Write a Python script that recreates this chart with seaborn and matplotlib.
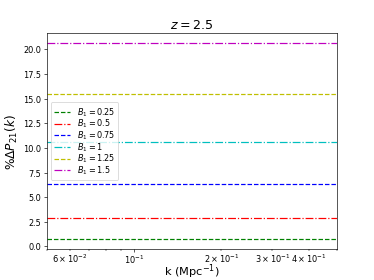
import numpy as np
import pandas as pd
import matplotlib
matplotlib.use("Agg")
import matplotlib.pyplot as plt
import seaborn as sns

k_values = [0.05, 0.1, 0.2, 0.3, 0.4, 0.5]
b1_labels = ["$B_1=0.25$", "$B_1=0.5$", "$B_1=0.75$", "$B_1=1$", "$B_1=1.25$", "$B_1=1.5$"]
delta_p = [0.72, 2.88, 6.3, 10.6, 15.5, 20.65]
colors = ["g", "r", "b", "c", "y", "m"]
styles = ["--", "-.", "--", "-.", "--", "-."]

fig, ax = plt.subplots(figsize=(6.4, 4.8), dpi=58.44)
for lab, val, col, ls in zip(b1_labels, delta_p, colors, styles):
    df = pd.DataFrame({"k": k_values, "dp": [val] * len(k_values)})
    sns.lineplot(data=df, x="k", y="dp", ax=ax, color=col, linestyle=ls, label=lab, linewidth=1.5)

ax.set_xscale("log")
ax.set_xlim(k_values[0], k_values[-1])
ax.set_yticks(np.arange(0, 20.1, 2.5))
ax.tick_params(axis="x", which="both", pad=1.5)
ax.set_xlabel(r"k (Mpc$^{-1}$)", fontsize=14)
ax.xaxis.set_label_coords(0.5, -0.058)
ax.set_ylabel(r"$\%\Delta P_{21}(k)$", fontsize=15)
ax.set_title(r"$z=2.5$", fontsize=15.5)
ax.legend(loc="center left", fontsize=10, labelspacing=-0.1)
fig.savefig("out.png", dpi=58.44)
